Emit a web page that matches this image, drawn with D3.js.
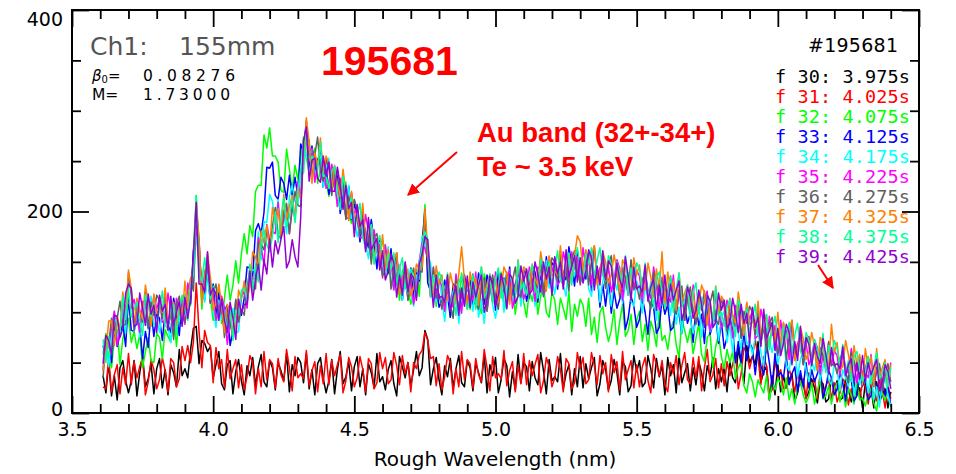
<!DOCTYPE html>
<html>
<head>
<meta charset="utf-8">
<script src="https://cdn.jsdelivr.net/npm/d3@7"></script>
<style>
  body { margin: 0; background: #fff; }
  svg { display: block; }
</style>
</head>
<body>
<svg id="chart" width="956" height="474"></svg>
<script>
// sample grid (nm), one row = 0.1 nm
const wavelength = [
  3.61,3.62,3.63,3.64,3.65,3.66,3.67,3.68,3.69,3.70,
  3.71,3.72,3.73,3.74,3.75,3.76,3.77,3.78,3.79,3.80,
  3.81,3.82,3.83,3.84,3.85,3.86,3.87,3.88,3.89,3.90,
  3.91,3.92,3.93,3.94,3.95,3.96,3.97,3.98,3.99,4.00,
  4.01,4.02,4.03,4.04,4.05,4.06,4.07,4.08,4.09,4.10,
  4.11,4.12,4.13,4.14,4.15,4.16,4.17,4.18,4.19,4.20,
  4.21,4.22,4.23,4.24,4.25,4.26,4.27,4.28,4.29,4.30,
  4.31,4.32,4.33,4.34,4.35,4.36,4.37,4.38,4.39,4.40,
  4.41,4.42,4.43,4.44,4.45,4.46,4.47,4.48,4.49,4.50,
  4.51,4.52,4.53,4.54,4.55,4.56,4.57,4.58,4.59,4.60,
  4.61,4.62,4.63,4.64,4.65,4.66,4.67,4.68,4.69,4.70,
  4.71,4.72,4.73,4.74,4.75,4.76,4.77,4.78,4.79,4.80,
  4.81,4.82,4.83,4.84,4.85,4.86,4.87,4.88,4.89,4.90,
  4.91,4.92,4.93,4.94,4.95,4.96,4.97,4.98,4.99,5.00,
  5.01,5.02,5.03,5.04,5.05,5.06,5.07,5.08,5.09,5.10,
  5.11,5.12,5.13,5.14,5.15,5.16,5.17,5.18,5.19,5.20,
  5.21,5.22,5.23,5.24,5.25,5.26,5.27,5.28,5.29,5.30,
  5.31,5.32,5.33,5.34,5.35,5.36,5.37,5.38,5.39,5.40,
  5.41,5.42,5.43,5.44,5.45,5.46,5.47,5.48,5.49,5.50,
  5.51,5.52,5.53,5.54,5.55,5.56,5.57,5.58,5.59,5.60,
  5.61,5.62,5.63,5.64,5.65,5.66,5.67,5.68,5.69,5.70,
  5.71,5.72,5.73,5.74,5.75,5.76,5.77,5.78,5.79,5.80,
  5.81,5.82,5.83,5.84,5.85,5.86,5.87,5.88,5.89,5.90,
  5.91,5.92,5.93,5.94,5.95,5.96,5.97,5.98,5.99,6.00,
  6.01,6.02,6.03,6.04,6.05,6.06,6.07,6.08,6.09,6.10,
  6.11,6.12,6.13,6.14,6.15,6.16,6.17,6.18,6.19,6.20,
  6.21,6.22,6.23,6.24,6.25,6.26,6.27,6.28,6.29,6.30,
  6.31,6.32,6.33,6.34,6.35,6.36,6.37,6.38,6.39,6.40
];

const frame30 = [
  37,20,50,17,37,13,45,52,32,20,
  32,52,17,40,57,26,34,49,19,44,
  54,25,43,18,48,40,26,63,37,44,
  35,63,84,86,49,72,69,61,66,35,
  48,61,29,23,48,52,19,41,53,32,
  18,47,37,55,27,46,58,31,26,52,
  45,23,50,42,32,59,21,48,37,55,
  50,30,59,24,43,18,49,55,34,20,
  32,53,19,43,61,29,36,51,22,46,
  56,26,44,18,49,40,25,59,31,36,
  23,43,52,29,17,56,46,35,50,27,
  43,61,37,45,82,73,28,44,55,33,
  18,47,36,54,25,44,57,30,26,52,
  45,22,49,40,30,58,20,48,37,55,
  20,33,54,47,16,41,23,58,30,50,
  46,22,51,35,28,60,42,19,53,32,
  36,31,59,24,39,48,18,44,26,56,
  25,49,34,45,55,17,29,52,43,23,
  32,53,40,18,51,46,21,27,57,41,
  52,26,30,57,44,25,54,36,47,18,
  55,37,48,20,58,30,40,49,22,45,
  28,51,40,22,47,36,55,24,44,31,
  45,21,51,35,30,64,49,29,67,50,
  56,48,71,31,41,46,13,37,18,48,
  21,37,25,33,39,12,20,36,29,15,
  21,34,25,10,32,29,11,14,35,24,
  32,13,15,34,24,11,31,18,25,5,
  31,17,25,5,31,11,18,24,5,21
];
const frame31 = [
  26,24,54,21,38,48,19,45,28,59,
  28,51,35,46,55,18,31,53,43,24,
  33,55,42,21,54,50,26,34,66,52,
  67,50,70,129,81,45,82,70,67,30,
  65,44,53,25,63,34,44,53,25,48,
  23,36,57,50,19,44,26,61,33,53,
  49,25,54,38,31,63,45,22,56,35,
  39,34,62,27,42,51,21,47,29,59,
  28,52,37,48,58,20,32,55,46,26,
  35,56,43,21,54,49,24,30,60,44,
  55,29,33,60,47,28,57,39,50,21,
  50,44,58,62,80,72,54,56,27,49,
  23,36,57,50,19,44,26,61,33,53,
  49,25,54,38,31,63,45,22,56,35,
  39,34,62,27,42,51,21,47,29,59,
  28,52,37,48,58,20,32,55,46,26,
  35,56,43,21,54,49,24,30,60,44,
  55,29,33,60,47,28,57,39,50,21,
  58,40,51,23,61,33,43,52,25,48,
  26,46,55,32,20,58,48,37,52,28,
  21,50,39,57,28,47,60,33,29,55,
  35,56,22,45,63,31,38,54,25,49,
  27,51,37,48,60,24,39,65,60,44,
  56,73,55,28,56,47,19,23,52,36,
  43,24,25,44,34,21,40,28,34,14,
  40,26,34,14,40,20,27,33,14,30,
  11,20,34,29,8,24,11,36,15,29,
  27,9,29,18,12,34,22,5,28,14
];
const frame32 = [
  58,79,54,45,74,83,48,74,85,94,
  70,81,64,78,45,61,75,52,50,79,
  75,54,83,76,70,100,66,98,91,117,
  120,107,160,216,153,103,141,151,115,92,
  104,127,89,114,137,112,127,151,129,158,
  178,158,186,175,220,226,226,276,263,283,
  255,255,249,221,219,262,242,221,246,232,
  253,274,254,238,253,263,228,242,253,230,
  215,241,226,241,207,221,229,197,188,209,
  197,170,193,180,166,190,148,172,157,171,
  162,138,162,125,140,112,141,146,123,108,
  120,143,116,164,207,140,127,137,106,128,
  136,105,122,95,125,117,103,139,111,116,
  103,124,133,111,99,138,128,118,133,109,
  125,140,109,103,127,131,98,119,131,110,
  95,123,111,128,98,116,128,100,95,120,
  112,88,114,104,93,120,81,108,96,113,
  107,86,114,78,95,70,100,106,85,71,
  82,103,68,91,108,76,82,98,68,92,
  101,71,88,62,91,82,66,101,72,77,
  63,83,91,68,55,92,82,70,84,59,
  74,89,58,51,75,79,45,66,78,56,
  44,63,50,61,34,45,51,27,20,39,
  31,16,33,26,20,37,13,30,23,34,
  30,18,35,13,24,9,27,31,18,10,
  17,30,9,22,33,14,17,27,9,24,
  30,11,22,6,24,18,9,30,13,15,
  7,19,24,10,2,25,19,13,21,6
];
const frame33 = [
  67,55,72,50,92,66,78,89,66,115,
  82,81,96,87,54,81,65,102,76,98,
  94,72,101,87,80,114,98,77,113,98,
  108,109,161,186,149,134,112,144,110,128,
  97,119,96,102,107,67,81,109,110,97,
  114,145,144,135,181,188,178,199,244,243,
  249,216,212,234,228,212,236,216,234,215,
  267,259,290,240,265,240,252,256,224,245,
  217,227,244,234,198,218,195,225,192,207,
  198,170,195,175,164,192,170,143,173,148,
  148,139,163,126,138,144,112,136,116,144,
  113,139,131,167,202,129,121,138,127,105,
  112,132,118,95,128,124,100,107,137,121,
  132,107,111,139,126,108,137,120,131,102,
  140,122,134,106,145,117,128,138,111,135,
  111,125,146,140,110,136,119,155,128,149,
  146,123,153,138,132,165,148,126,161,141,
  140,133,159,121,133,138,105,128,106,133,
  99,121,104,113,122,83,94,116,106,85,
  93,114,100,78,110,105,79,85,114,98,
  108,82,85,112,98,79,107,89,99,70,
  106,87,98,69,107,78,88,96,69,91,
  64,75,94,84,50,71,50,82,52,70,
  64,38,65,47,38,69,50,26,59,37,
  40,35,57,28,39,46,21,42,26,50,
  25,43,31,39,47,15,25,42,35,18,
  24,41,30,12,37,33,12,17,40,27,
  35,13,17,37,26,11,33,17,26,8
];
const frame34 = [
  44,72,46,77,101,73,84,103,79,128,
  123,81,97,75,103,96,83,116,86,93,
  80,102,107,86,70,107,100,91,108,90,
  110,132,124,178,153,133,110,137,135,101,
  85,112,93,106,72,89,104,79,81,114,
  122,106,141,142,142,180,152,190,189,217,
  210,187,212,175,198,178,214,226,210,207,
  234,270,253,254,262,235,247,257,224,244,
  253,220,234,205,230,216,196,226,193,193,
  175,191,196,169,153,187,173,158,169,141,
  153,165,131,123,145,147,112,132,143,120,
  106,137,133,176,172,156,149,116,110,134,
  115,91,117,107,97,126,89,118,107,125,
  120,101,129,95,113,89,120,128,107,94,
  112,133,100,123,142,110,118,135,106,131,
  142,113,131,106,137,129,115,151,124,130,
  118,139,149,127,116,155,146,136,152,129,
  138,153,123,116,140,144,110,131,143,121,
  106,134,122,139,109,127,139,111,106,131,
  123,99,125,115,104,131,92,119,107,124,
  118,97,124,88,105,79,109,115,93,79,
  90,110,75,97,114,81,87,102,72,95,
  101,70,87,60,89,79,63,97,68,72,
  58,76,84,60,47,84,72,60,74,49,
  62,74,48,42,61,63,36,53,61,43,
  31,52,42,56,32,46,55,33,28,48,
  42,22,43,35,26,47,17,38,28,42,
  37,20,42,13,26,6,30,35,18,7
];
const frame35 = [
  42,73,66,85,101,67,83,109,105,110,
  104,113,98,80,111,108,85,89,117,103,
  114,90,90,119,102,82,114,98,111,88,
  129,117,150,182,170,117,137,151,109,119,
  92,103,116,104,68,91,75,112,90,117,
  120,104,141,133,134,174,164,147,187,172,
  180,178,209,176,193,205,178,206,193,230,
  212,261,268,262,262,229,246,262,247,223,
  229,247,230,205,233,223,193,194,219,198,
  204,174,174,197,180,157,182,160,167,134,
  167,145,152,122,157,126,134,141,112,133,
  108,123,151,169,163,153,115,144,114,132,
  126,101,129,112,105,138,121,99,133,112,
  116,112,140,106,121,131,101,128,110,140,
  110,134,120,131,142,104,117,141,132,113,
  123,145,132,111,145,141,117,124,155,140,
  152,127,132,160,148,130,160,143,155,127,
  164,145,156,127,164,135,144,152,124,146,
  120,132,152,144,112,136,117,151,122,141,
  136,111,139,122,114,145,126,102,135,113,
  116,110,137,101,115,123,92,117,98,127,
  95,118,102,112,121,82,93,115,105,84,
  92,112,98,75,107,101,75,80,109,92,
  102,74,77,103,89,69,96,77,87,57,
  92,73,82,53,90,60,69,77,48,70,
  48,56,72,65,39,58,43,70,47,62,
  57,37,59,46,39,64,49,30,56,38,
  40,35,58,29,40,47,22,42,27,50
];
const frame36 = [
  35,71,68,94,71,94,111,87,88,139,
  117,82,107,102,90,120,84,110,97,117,
  112,94,118,85,99,73,107,116,97,90,
  106,133,121,204,172,115,132,153,109,120,
  128,96,106,75,100,89,76,113,91,103,
  97,125,142,127,123,169,167,162,183,165,
  185,204,177,173,200,208,178,202,220,206,
  205,259,270,271,232,256,274,240,230,252,
  242,216,239,227,212,235,192,215,199,212,
  202,178,202,163,177,148,175,178,153,136,
  144,161,123,144,159,124,129,143,112,134,
  144,116,141,140,195,151,116,145,115,118,
  103,122,130,106,94,133,124,114,129,105,
  121,138,108,103,128,134,101,124,137,116,
  103,132,122,140,112,131,145,119,115,142,
  136,114,141,133,124,153,116,145,135,154,
  150,131,160,126,145,121,153,161,141,129,
  141,161,127,149,166,133,139,154,124,147,
  156,125,142,115,144,134,118,152,123,127,
  113,132,140,116,103,140,129,117,131,106,
  121,136,105,98,122,126,92,113,125,103,
  88,116,104,121,91,109,121,93,88,113,
  105,81,107,97,86,113,74,101,89,106,
  100,78,105,69,86,60,89,95,73,59,
  69,89,53,75,92,58,64,79,48,71,
  76,50,64,42,65,57,44,71,47,50,
  39,54,60,41,30,60,52,42,53,33,
  44,56,32,26,45,49,22,39,49,31
];
const frame37 = [
  42,62,91,92,67,96,82,120,97,142,
  123,87,114,102,93,127,111,86,118,99,
  103,100,124,91,102,110,83,111,95,131,
  104,134,141,212,172,109,131,159,135,102,
  109,128,107,80,108,101,78,86,122,113,
  131,113,125,160,155,144,181,169,186,163,
  204,189,203,177,217,192,205,216,194,224,
  212,250,293,269,228,258,245,273,239,255,
  248,221,246,227,215,242,219,191,220,194,
  193,184,208,169,180,185,151,173,151,177,
  142,162,143,152,159,118,128,149,138,116,
  125,148,142,145,203,163,118,118,146,128,
  137,110,113,139,126,108,138,165,132,103,
  140,123,134,107,145,118,128,138,111,134,
  110,123,145,138,108,133,116,152,124,145,
  142,119,148,133,127,160,143,121,156,136,
  141,137,166,132,148,158,129,156,176,170,
  139,162,147,157,166,127,138,160,150,129,
  137,157,143,120,152,146,120,125,154,137,
  147,120,123,149,135,115,143,124,160,104,
  140,121,131,102,139,110,119,127,99,121,
  95,107,127,119,87,111,92,126,97,116,
  111,86,114,97,89,120,101,77,110,88,
  91,84,111,75,89,97,65,90,71,100,
  67,90,73,83,92,52,63,85,74,53,
  61,80,66,43,75,69,43,48,88,60,
  70,43,46,72,58,38,67,48,58,28,
  64,45,56,27,64,36,45,53,26,48
];
const frame38 = [
  73,50,76,58,94,89,78,116,93,123,
  95,103,110,91,77,117,109,96,109,87,
  103,121,87,83,104,108,78,102,117,102,
  92,127,138,216,137,131,154,132,113,126,
  117,92,111,97,82,108,72,102,97,122,
  124,112,148,121,147,130,169,182,167,160,
  176,200,169,194,214,185,195,213,189,220,
  243,238,278,235,255,251,241,269,235,236,
  223,240,245,219,202,235,220,204,214,185,
  196,208,174,164,185,186,149,167,176,151,
  133,158,143,159,127,143,154,125,119,143,
  136,115,149,165,180,173,115,137,124,140,
  133,112,139,103,121,97,129,137,116,103,
  115,137,103,127,145,114,121,138,109,133,
  144,114,133,107,138,129,115,151,123,129,
  117,138,147,125,114,153,144,134,150,127,
  144,161,132,127,153,159,127,150,164,144,
  130,158,147,164,134,152,164,136,131,156,
  148,124,150,140,129,156,117,144,132,149,
  143,122,149,113,130,104,134,140,118,104,
  115,135,100,122,139,106,112,127,97,120,
  129,98,115,88,117,107,91,125,96,100,
  86,105,113,89,76,113,102,90,104,79,
  94,108,77,70,94,98,63,84,96,74,
  58,86,73,90,60,77,89,61,55,80,
  72,47,73,63,52,79,40,67,55,72,
  64,47,68,39,52,31,56,61,43,32,
  40,56,29,46,60,34,39,50,27,45
];
const frame39 = [
  49,77,72,58,97,96,75,84,119,128,
  124,86,88,119,104,87,118,98,107,80,
  117,101,108,82,116,87,100,111,86,115,
  94,113,156,209,128,128,120,160,117,124,
  118,92,113,92,80,110,94,73,113,99,
  108,108,141,112,133,148,122,152,138,173,
  145,171,158,172,185,144,151,172,155,145,
  194,270,284,230,251,253,233,229,255,235,
  249,220,220,244,226,202,226,203,209,175,
  207,185,192,160,194,162,168,173,142,161,
  132,141,158,149,115,137,117,150,120,138,
  134,112,148,157,175,172,134,105,137,114,
  116,110,137,101,116,126,97,124,106,136,
  105,130,115,127,137,100,112,136,127,107,
  117,138,126,104,138,133,109,116,146,131,
  143,118,122,150,138,120,150,133,145,117,
  155,138,150,123,162,135,146,156,130,154,
  129,141,162,154,122,146,127,161,132,151,
  146,121,149,132,124,155,136,112,145,123,
  126,120,147,111,125,133,102,127,108,137,
  105,128,112,122,131,92,103,125,115,94,
  102,122,108,85,117,111,85,90,119,102,
  112,85,88,114,100,80,108,89,99,69,
  105,85,95,66,103,74,82,90,62,84,
  57,69,88,80,48,71,52,86,56,75,
  68,47,69,56,49,74,58,39,65,47,
  49,44,66,37,48,54,30,50,34,57,
  32,50,38,46,53,22,31,48,41,24
];

const frameLabels = [
  "f 30: 3.975s", "f 31: 4.025s", "f 32: 4.075s", "f 33: 4.125s", "f 34: 4.175s",
  "f 35: 4.225s", "f 36: 4.275s", "f 37: 4.325s", "f 38: 4.375s", "f 39: 4.425s"
];
const frameColors = [
  "#000000", "#ff0000", "#00ff00", "#0000ff", "#00ffff",
  "#ff00ff", "#606060", "#ff8000", "#00ff99", "#9400d3"
];
const series = [frame30, frame31, frame32, frame33, frame34, frame35, frame36, frame37, frame38, frame39];

const xMajorTicks = [3.5, 4.0, 4.5, 5.0, 5.5, 6.0, 6.5];
const xTickLabels = ["3.5", "4.0", "4.5", "5.0", "5.5", "6.0", "6.5"];
const yMajorTicks = [0, 200, 400];
const yTickLabels = ["0", "200", "400"];

const margin = { top: 10, right: 37, bottom: 61, left: 72 };
const width = 956, height = 474;

const svg = d3.select("#chart");

const x = d3.scaleLinear()
  .domain([3.5, 6.5])
  .range([margin.left, width - margin.right]);

const y = d3.scaleLinear()
  .domain([0, 400])
  .range([height - margin.bottom, margin.top]);

// spectra, drawn in frame order so f39 ends up on top
const line = d3.line()
  .x((d, i) => x(wavelength[i]))
  .y(d => y(d));

svg.append("g")
  .selectAll("path")
  .data(series)
  .join("path")
  .attr("d", line)
  .attr("fill", "none")
  .attr("stroke", (d, i) => frameColors[i])
  .attr("stroke-width", 1.5)
  .attr("stroke-linejoin", "round");

// axes, ticks pointing inward
const xMinorTicks = d3.range(35, 66).map(v => v / 10).filter(v => !xMajorTicks.some(m => Math.abs(m - v) < 1e-6));
const yMinorTicks = d3.range(0, 401, 50).filter(v => !yMajorTicks.includes(v));

function addAxis(gen, values, size, transform, labels) {
  const g = svg.append("g")
    .attr("transform", transform)
    .call(gen.tickValues(values).tickSize(size).tickPadding(labels ? 10 : 0)
      .tickFormat(labels ? ((d, i) => labels[i]) : ""));
  g.select(".domain").remove();
  g.selectAll("line").attr("stroke", "#000").attr("stroke-width", 1.8);
  g.selectAll("text")
    .attr("fill", "#000")
    .style("font-family", "'DejaVu Sans', sans-serif")
    .style("font-size", "19px");
  return g;
}

const atBottom = `translate(0,${height - margin.bottom})`;
const atTop = `translate(0,${margin.top})`;
const atLeft = `translate(${margin.left},0)`;
const atRight = `translate(${width - margin.right},0)`;

addAxis(d3.axisBottom(x), xMajorTicks, -17, atBottom, xTickLabels);
addAxis(d3.axisBottom(x), xMinorTicks, -9, atBottom, null);
addAxis(d3.axisTop(x), xMajorTicks, -17, atTop, null);
addAxis(d3.axisTop(x), xMinorTicks, -9, atTop, null);
const yAxisG = addAxis(d3.axisLeft(y), yMajorTicks, -17, atLeft, yTickLabels);
addAxis(d3.axisLeft(y), yMinorTicks, -9, atLeft, null);
addAxis(d3.axisRight(y), yMajorTicks, -17, atRight, null);
addAxis(d3.axisRight(y), yMinorTicks, -9, atRight, null);

// end labels are pulled inside the frame
yAxisG.selectAll("text")
  .attr("dx", 1)
  .attr("dy", d => d === 400 ? "0.8em" : d === 0 ? "0.12em" : "0.34em");

svg.append("rect")
  .attr("x", margin.left)
  .attr("y", margin.top)
  .attr("width", width - margin.left - margin.right)
  .attr("height", height - margin.top - margin.bottom)
  .attr("fill", "none")
  .attr("stroke", "#000")
  .attr("stroke-width", 2);

svg.append("text")
  .attr("x", 495)
  .attr("y", 466)
  .attr("text-anchor", "middle")
  .style("font-family", "'DejaVu Sans', sans-serif")
  .style("font-size", "20px")
  .text("Rough Wavelength (nm)");

// channel info, top left
svg.append("text")
  .attr("x", 90).attr("y", 55)
  .attr("fill", "#555")
  .style("font-family", "'DejaVu Sans', sans-serif")
  .style("font-size", "25px")
  .text("Ch1:");
svg.append("text")
  .attr("x", 179).attr("y", 55)
  .attr("fill", "#555")
  .style("font-family", "'DejaVu Sans', sans-serif")
  .style("font-size", "25px")
  .text("155mm");

const beta = svg.append("text")
  .attr("x", 92).attr("y", 81)
  .attr("fill", "#000")
  .style("font-family", "'DejaVu Sans', sans-serif")
  .style("font-size", "15px");
beta.append("tspan").style("font-style", "italic").text("β");
beta.append("tspan").attr("dy", 2).style("font-size", "10px").text("0");
beta.append("tspan").attr("dy", -2).text("=");
svg.append("text")
  .attr("x", 143).attr("y", 81)
  .attr("textLength", 92)
  .style("font-family", "'DejaVu Sans', sans-serif")
  .style("font-size", "15.5px")
  .text("0.08276");
svg.append("text")
  .attr("x", 92).attr("y", 100)
  .style("font-family", "'DejaVu Sans', sans-serif")
  .style("font-size", "15.5px")
  .text("M=");
svg.append("text")
  .attr("x", 143).attr("y", 100)
  .attr("textLength", 87)
  .style("font-family", "'DejaVu Sans', sans-serif")
  .style("font-size", "15.5px")
  .text("1.73000");

// shot number and legend
svg.append("text")
  .attr("x", 808).attr("y", 52)
  .attr("textLength", 90)
  .style("font-family", "'DejaVu Sans', sans-serif")
  .style("font-size", "19px")
  .text("#195681");

svg.append("g")
  .selectAll("text")
  .data(frameLabels)
  .join("text")
  .attr("x", 775)
  .attr("y", (d, i) => 83 + i * 20)
  .attr("fill", (d, i) => frameColors[i])
  .attr("textLength", 135)
  .style("font-family", "'DejaVu Sans Mono', monospace")
  .style("font-size", "18.5px")
  .text(d => d);

// red annotations
const red = "#ff0000";
svg.append("text")
  .attr("x", 321).attr("y", 75)
  .attr("fill", red)
  .style("font-family", "'Liberation Sans', Arial, sans-serif")
  .style("font-weight", "bold")
  .style("font-size", "41px")
  .text("195681");

svg.append("text")
  .attr("x", 477).attr("y", 142)
  .attr("fill", red)
  .style("font-family", "'Liberation Sans', Arial, sans-serif")
  .style("font-weight", "bold")
  .style("font-size", "27.5px")
  .text("Au band (32+-34+)");
svg.append("text")
  .attr("x", 477).attr("y", 176)
  .attr("fill", red)
  .style("font-family", "'Liberation Sans', Arial, sans-serif")
  .style("font-weight", "bold")
  .style("font-size", "27.5px")
  .text("Te ~ 3.5 keV");

svg.append("defs").append("marker")
  .attr("id", "head")
  .attr("viewBox", "0 0 10 10")
  .attr("refX", 9).attr("refY", 5)
  .attr("markerWidth", 6).attr("markerHeight", 6)
  .attr("markerUnits", "strokeWidth")
  .attr("orient", "auto")
  .append("path")
  .attr("d", "M0,0L10,5L0,10Z")
  .attr("fill", red);

svg.append("line")
  .attr("x1", 457).attr("y1", 152)
  .attr("x2", 408).attr("y2", 195)
  .attr("stroke", red).attr("stroke-width", 2)
  .attr("marker-end", "url(#head)");
svg.append("line")
  .attr("x1", 818).attr("y1", 265)
  .attr("x2", 833).attr("y2", 288)
  .attr("stroke", red).attr("stroke-width", 2)
  .attr("marker-end", "url(#head)");
</script>
</body>
</html>
